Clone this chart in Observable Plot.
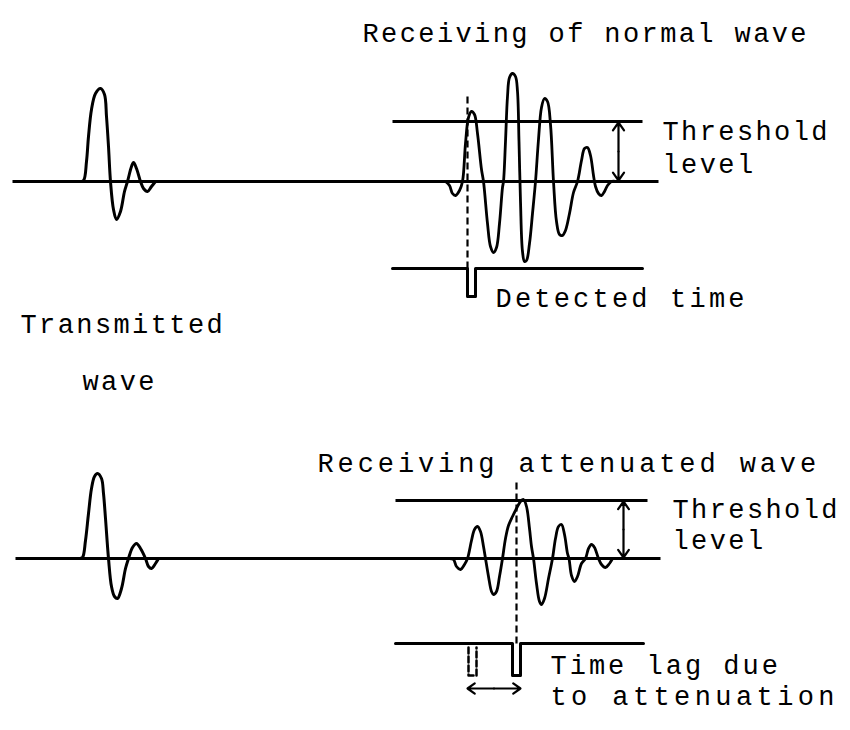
<!DOCTYPE html>
<html>
<head>
<meta charset="utf-8">
<script src="https://cdn.jsdelivr.net/npm/d3@7"></script>
<script src="https://cdn.jsdelivr.net/npm/@observablehq/plot@0.6"></script>
<style>
  html, body { margin: 0; padding: 0; background: #fff; }
</style>
</head>
<body>
<div id="chart"></div>
<script>
// ---------------- DATA (time units along x, amplitude units, positive = up) ----------------
// Transmitted wave, upper diagram
const txTopTime = [79, 83, 86, 88, 91, 95, 100, 104, 106, 108, 110, 113, 116, 120, 124, 127, 131, 133, 136, 140, 143, 147, 151, 155];
const txTopAmp  = [0, 1, 20, 45, 72, 88, 93, 87, 65, 35, 0, -28, -38, -30, -10, 0, 15, 19, 13, 0, -7, -10, -5, 0];
// Transmitted wave, lower diagram
const txBotTime = [79, 82, 85, 88, 91, 94, 97, 101, 103, 105, 108, 111, 114, 117, 121, 125, 128, 132, 136, 140, 145, 148, 151, 155, 158];
const txBotAmp  = [0, 1, 18, 45, 70, 82, 85, 80, 65, 40, 0, -28, -38, -40, -30, -10, 0, 11, 15, 10, 0, -8, -10, -5, 0];
// Received normal wave
const rxNormTime = [445, 449, 452, 455, 459, 462, 465, 468, 471, 474, 477, 481, 483, 487, 490, 493, 496, 499, 502, 503, 505, 507, 509, 512, 515, 517, 518.5, 520, 522, 524, 526, 529, 532, 535, 538, 541, 544, 547, 550, 553, 556, 559, 562, 565, 569, 573, 577, 581, 584, 587, 590, 593, 595, 598, 601, 604, 607, 611, 615];
const rxNormAmp  = [0, -4, -12, -14, -9, 0, 38, 64, 70, 67, 48, 12, 0, -42, -65, -71, -66, -42, -6, 0, 40, 85, 104, 108, 105, 90, 40, -20, -70, -80, -79, -62, -32, 0, 42, 74, 83, 80, 57, 0, -40, -53, -54, -49, -32, -11, 0, 21, 33, 34, 26, 6, -5, -12, -14, -10, -4, 0, 0];
// Received attenuated wave
const rxAttTime = [449, 453, 456, 460, 464, 467, 471, 474, 477, 480, 483, 485, 488, 491, 493, 496, 499, 502, 505, 508, 512, 516, 520, 523, 526, 529, 531, 533, 536, 539, 541, 544, 548, 552, 555, 558, 561, 564, 567, 568.5, 571, 574, 577, 581, 585, 588, 591, 594, 598, 601, 605, 609, 612];
const rxAttAmp  = [0, -1, -8, -11, -6, 0, 18, 29, 32, 27, 12, 0, -18, -33, -36, -33, -18, 0, 20, 33, 42, 50, 57, 59, 52, 30, 12, 0, -25, -43, -46, -40, -20, 0, 20, 32, 34, 24, 5, 0, -17, -23, -18, -5, 0, 10, 14, 11, 0, -6, -9, -5, 0];

// Threshold levels (amplitude units) and detection times
const thresholdLevels = [60, 58];            // normal, attenuated
const detectedTimes   = [467, 516];          // normal, attenuated (dashed guide)
const normalDetectOnAtt = 472;               // where the normal wave would have been detected

const labels = [
  "Receiving of normal wave", "Threshold", "level", "Detected time",
  "Transmitted", "wave", "Receiving attenuated wave", "Threshold", "level",
  "Time lag due", "to attenuation"
];

// ---------------- LAYOUT ----------------
const TOP = 549, BOT = 172;          // baseline of each diagram in y units
const pulseDepth = 117, lineDrop = 87;
const series = (time, amp, base) => time.map((t, i) => ({t, v: base + amp[i]}));

const txTop = series(txTopTime, txTopAmp, TOP);
const txBot = series(txBotTime, txBotAmp, BOT);
const rxNorm = series(rxNormTime, rxNormAmp, TOP);
const rxAtt = series(rxAttTime, rxAttAmp, BOT);

const baselines = [
  {x1: 12, x2: 658, y: TOP},
  {x1: 15, x2: 660, y: BOT},
  {x1: 392, x2: 642, y: TOP + thresholdLevels[0]},
  {x1: 395, x2: 647, y: BOT + thresholdLevels[1]}
];

const detTop = [
  {t: 392, v: TOP - lineDrop}, {t: detectedTimes[0], v: TOP - lineDrop},
  {t: detectedTimes[0], v: TOP - pulseDepth + 2}, {t: detectedTimes[0] + 8, v: TOP - pulseDepth + 2},
  {t: detectedTimes[0] + 8, v: TOP - lineDrop}, {t: 642, v: TOP - lineDrop}
];
const detBot = [
  {t: 395, v: BOT - lineDrop + 2}, {t: detectedTimes[1] - 4, v: BOT - lineDrop + 2},
  {t: detectedTimes[1] - 4, v: BOT - pulseDepth}, {t: detectedTimes[1] + 4, v: BOT - pulseDepth},
  {t: detectedTimes[1] + 4, v: BOT - lineDrop + 2}, {t: 643, v: BOT - lineDrop + 2}
];
const detBotDashed = [
  {t: normalDetectOnAtt - 4, v: BOT - lineDrop - 2}, {t: normalDetectOnAtt - 4, v: BOT - pulseDepth},
  {t: normalDetectOnAtt + 4, v: BOT - pulseDepth}, {t: normalDetectOnAtt + 4, v: BOT - lineDrop - 2}
];

const guides = [
  {x: detectedTimes[0], y1: TOP - lineDrop, y2: 638},
  {x: detectedTimes[1], y1: BOT - lineDrop + 2, y2: 248}
];

// double-headed arrows: drawn as two arrows from the middle outward
const dbl = [
  {x1: 618, y1: TOP + thresholdLevels[0] - 1, x2: 618, y2: TOP + 1},
  {x1: 623, y1: BOT + thresholdLevels[1] - 1, x2: 623, y2: BOT + 1},
  {x1: 467, y1: 42, x2: 520, y2: 42}
];
const arrowHalves = dbl.flatMap(a => {
  const mx = (a.x1 + a.x2) / 2, my = (a.y1 + a.y2) / 2;
  return [{x1: mx, y1: my, x2: a.x1, y2: a.y1}, {x1: mx, y1: my, x2: a.x2, y2: a.y2}];
});

const textPos = [
  [362, 697], [662, 599], [662, 566], [495, 432],
  [20, 406], [82, 349], [317, 267], [672, 221], [672, 190],
  [550, 65], [550, 34]
];
const textSpacing = [2.4, 2.4, 2.4, 3.2, 2.4, 2.4, 3.9, 2.4, 2.4, 3.0, 4.4];
const texts = labels.map((s, i) => ({s, x: textPos[i][0], y: textPos[i][1]}));

const font = "'Liberation Mono', 'DejaVu Sans Mono', monospace";

const chart = Plot.plot({
  width: 850,
  height: 730,
  margin: 0,
  x: {domain: [0, 850], range: [0, 850], axis: null},
  y: {domain: [0, 730], range: [730, 0], axis: null},
  style: {background: "#fff"},
  marks: [
    Plot.link(baselines, {x1: "x1", x2: "x2", y1: "y", y2: "y", stroke: "#000", strokeWidth: 3}),
    Plot.line(detTop, {x: "t", y: "v", stroke: "#000", strokeWidth: 3, strokeLinejoin: "round"}),
    Plot.line(detBot, {x: "t", y: "v", stroke: "#000", strokeWidth: 3, strokeLinejoin: "round"}),
    Plot.line(detBotDashed, {x: "t", y: "v", stroke: "#000", strokeWidth: 2.5, strokeDasharray: "6,3"}),
    Plot.link(guides, {x1: "x", x2: "x", y1: "y1", y2: "y2", stroke: "#000", strokeWidth: 2.2, strokeDasharray: "7,4"}),
    Plot.line(txTop, {x: "t", y: "v", curve: "catmull-rom", stroke: "#000", strokeWidth: 3}),
    Plot.line(txBot, {x: "t", y: "v", curve: "catmull-rom", stroke: "#000", strokeWidth: 3}),
    Plot.line(rxNorm, {x: "t", y: "v", curve: "catmull-rom", stroke: "#000", strokeWidth: 2.8}),
    Plot.line(rxAtt, {x: "t", y: "v", curve: "catmull-rom", stroke: "#000", strokeWidth: 2.8}),
    Plot.arrow(arrowHalves, {x1: "x1", y1: "y1", x2: "x2", y2: "y2", stroke: "#000", strokeWidth: 2.2, headLength: 11, headAngle: 70}),
    Plot.text(texts, {x: "x", y: "y", text: "s", textAnchor: "start", lineAnchor: "middle", fontSize: 27, fontFamily: font, fill: "#000"})
  ]
});
// per-label letter spacing to match the typewriter widths
chart.querySelectorAll("text").forEach(el => {
  const i = labels.indexOf(el.textContent);
  if (i >= 0) {
    // second occurrence of duplicated labels uses the later entry
    const all = [...chart.querySelectorAll("text")].filter(e => e.textContent === el.textContent);
    const k = all.indexOf(el);
    const idx = labels.reduce((acc, s, j) => (s === el.textContent ? acc.concat(j) : acc), [])[k] ?? i;
    el.setAttribute("letter-spacing", textSpacing[idx]);
  }
});
document.getElementById("chart").appendChild(chart);
</script>
</body>
</html>
